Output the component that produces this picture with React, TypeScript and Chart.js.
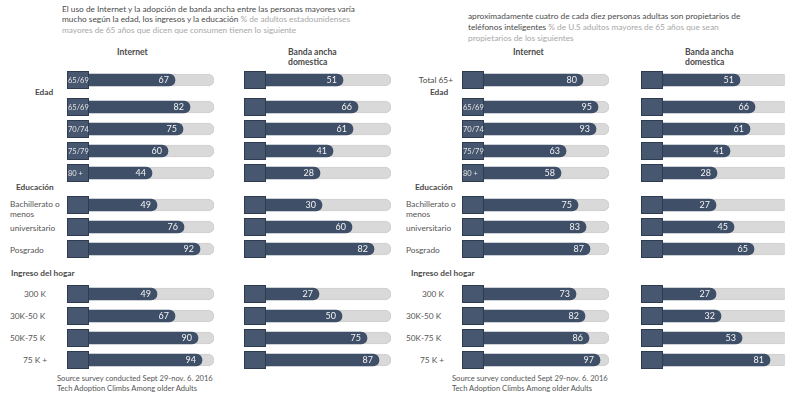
import React, { useEffect, useRef } from "react";
import { Chart, registerables } from "chart.js";

Chart.register(...registerables);

// ---------- DATA ----------
const AGE_CATEGORIES = ["65/69", "70/74", "75/79", "80 +"];
const EDU_CATEGORIES = ["Bachillerato o\nmenos", "universitario", "Posgrado"];
const INCOME_CATEGORIES = ["300 K", "30K-50 K", "50K-75 K", "75 K +"];

// Left panel
const LEFT_FIRST_CATEGORY = ["65/69"];
const LEFT_FIRST_INTERNET = [67];
const LEFT_FIRST_BROADBAND = [51];
const LEFT_AGE_INTERNET = [82, 75, 60, 44];
const LEFT_AGE_BROADBAND = [66, 61, 41, 28];
const LEFT_EDU_INTERNET = [49, 76, 92];
const LEFT_EDU_BROADBAND = [30, 60, 82];
const LEFT_INCOME_INTERNET = [49, 67, 90, 94];
const LEFT_INCOME_BROADBAND = [27, 50, 75, 87];

// Right panel
const RIGHT_FIRST_CATEGORY = ["Total 65+"];
const RIGHT_FIRST_INTERNET = [80];
const RIGHT_FIRST_BROADBAND = [51];
const RIGHT_AGE_INTERNET = [95, 93, 63, 58];
const RIGHT_AGE_BROADBAND = [66, 61, 41, 28];
const RIGHT_EDU_INTERNET = [75, 83, 87];
const RIGHT_EDU_BROADBAND = [27, 45, 65];
const RIGHT_INCOME_INTERNET = [73, 82, 86, 97];
const RIGHT_INCOME_BROADBAND = [27, 32, 53, 81];

// Text
const LEFT_TITLE_DARK_1 = "El uso de Internet y la adopción de banda ancha entre las personas mayores varía";
const LEFT_TITLE_DARK_2 = "mucho según la edad, los ingresos y la educación";
const LEFT_TITLE_GRAY_2 = " % de adultos estadounidenses";
const LEFT_TITLE_GRAY_3 = "mayores de 65 años que dicen que consumen tienen lo siguiente";
const RIGHT_TITLE_DARK_1 = "aproximadamente cuatro de cada diez personas adultas son propietarios de";
const RIGHT_TITLE_DARK_2 = "teléfonos inteligentes";
const RIGHT_TITLE_GRAY_2 = " % de U.S adultos mayores de 65 años que sean";
const RIGHT_TITLE_GRAY_3 = "propietarios de los siguientes";
const COLUMN_INTERNET = "Internet";
const COLUMN_BROADBAND = ["Banda ancha", "domestica"];
const GROUP_AGE = "Edad";
const GROUP_EDU = "Educación";
const GROUP_INCOME = "Ingreso del hogar";
const SOURCE_LINES = ["Source survey conducted Sept 29-nov. 6. 2016", "Tech Adoption Climbs Among older Adults"];

// ---------- STYLE ----------
const FONT = "Lato, 'Open Sans', sans-serif";
const BAR_COLOR = "#3e4f67";
const CAP_COLOR = "#46576f";
const CAP_BORDER = "#2e3c50";
const TRACK_COLOR = "#d9d9d9";
const TRACK_BORDER = "#cfcfcf";
const TEXT_DARK = "#4a4a4a";
const TEXT_GRAY = "#a8a8a8";
const LABEL_COLOR = "#555555";

const PITCH = 22;
const TRACK_WIDTH = 147;
const INTERNET_MIN = -41;
const BROADBAND_MIN = -48;
const GROUP_TOPS = [69, 96, 194, 283];

type GroupProps = {
  categories: string[];
  values: number[];
  capLabels: (string | null)[];
  left: number;
  top: number;
  axisMin: number;
};

function BarGroup({ categories, values, capLabels, left, top, axisMin }: GroupProps) {
  const ref = useRef<HTMLCanvasElement | null>(null);
  useEffect(() => {
    if (!ref.current) return;
    const axisMax = axisMin + TRACK_WIDTH;
    const capPlugin = {
      id: "caps",
      afterDatasetsDraw(chart: any) {
        const ctx = chart.ctx;
        const area = chart.chartArea;
        const meta = chart.getDatasetMeta(0);
        ctx.save();
        meta.data.forEach((bar: any, i: number) => {
          const y = bar.y;
          // value label
          ctx.fillStyle = "#f4f4f4";
          ctx.font = `9px ${FONT}`;
          ctx.textAlign = "right";
          ctx.textBaseline = "middle";
          ctx.fillText(String(values[i]), bar.x - 6, y + 0.5);
          // cap
          ctx.fillStyle = CAP_COLOR;
          ctx.fillRect(area.left, y - 9, 22, 18);
          ctx.strokeStyle = CAP_BORDER;
          ctx.lineWidth = 1;
          ctx.strokeRect(area.left + 0.5, y - 8.5, 21, 17);
          const cl = capLabels[i];
          if (cl) {
            ctx.fillStyle = "#e4e4e4";
            ctx.font = `7.5px ${FONT}`;
            ctx.textAlign = "left";
            ctx.fillText(cl, area.left + 1, y + 0.5);
          }
        });
        ctx.restore();
      },
    };
    const chart = new Chart(ref.current, {
      type: "bar",
      data: {
        labels: categories,
        datasets: [
          {
            label: "valor",
            data: values,
            backgroundColor: BAR_COLOR,
            barThickness: 12,
            borderRadius: 6,
            borderSkipped: "start",
            base: axisMin,
            grouped: false,
            order: 1,
          } as any,
          {
            label: "pista",
            data: categories.map(() => axisMax),
            backgroundColor: TRACK_COLOR,
            borderColor: TRACK_BORDER,
            borderWidth: 1,
            barThickness: 12,
            borderRadius: 6,
            borderSkipped: "start",
            base: axisMin,
            grouped: false,
            order: 2,
          } as any,
        ],
      },
      options: {
        indexAxis: "y",
        responsive: false,
        maintainAspectRatio: false,
        animation: false,
        layout: { padding: 0 },
        plugins: { legend: { display: false }, tooltip: { enabled: false }, title: { display: false } },
        scales: {
          x: { display: false, min: axisMin, max: axisMax },
          y: { display: false },
        },
      },
      plugins: [capPlugin],
    });
    return () => chart.destroy();
  }, []);
  return (
    <canvas
      ref={ref}
      width={TRACK_WIDTH}
      height={categories.length * PITCH}
      style={{ position: "absolute", left, top, display: "block" }}
    />
  );
}

function Txt({ x, y, children, size = 8.3, bold = false, color = LABEL_COLOR, align = "left" }: any) {
  const lh = 10.5;
  const style: any = {
    position: "absolute",
    top: y - lh / 2,
    fontSize: size,
    lineHeight: `${lh}px`,
    fontWeight: bold ? 700 : 400,
    color,
    whiteSpace: "nowrap",
  };
  if (align === "right") style.right = 785 - x;
  else style.left = x;
  return <div style={style}>{children}</div>;
}

function Panel({ offsetX, right, first, age, edu, income, firstCap, title, firstLabel }: any) {
  const colInternet = offsetX + 67;
  const colBroad = offsetX + (right ? 246 : 244);
  const rowCenter = (g: number, i: number) => GROUP_TOPS[g] + (i + 0.5) * PITCH;
  const groups = [
    { cats: first.cats, internet: first.internet, broad: first.broad, caps: [firstCap] },
    { cats: AGE_CATEGORIES, internet: age.internet, broad: age.broad, caps: AGE_CATEGORIES },
    { cats: EDU_CATEGORIES, internet: edu.internet, broad: edu.broad, caps: EDU_CATEGORIES.map(() => null) },
    { cats: INCOME_CATEGORIES, internet: income.internet, broad: income.broad, caps: INCOME_CATEGORIES.map(() => null) },
  ];
  const eduX = right ? [11, 11, 11] : [10, 10, 10];
  const incomeX = right ? [27, 11, 11, 25] : [24, 10, 10, 23];
  return (
    <>
      {title}
      <Txt x={offsetX + (right ? 118 : 117)} y={52} bold size={8.6} color={TEXT_DARK}>{COLUMN_INTERNET}</Txt>
      <Txt x={offsetX + (right ? 290 : 288)} y={52} bold size={8.6} color={TEXT_DARK}>{COLUMN_BROADBAND[0]}</Txt>
      <Txt x={offsetX + (right ? 290 : 288)} y={62.5} bold size={8.6} color={TEXT_DARK}>{COLUMN_BROADBAND[1]}</Txt>
      {firstLabel}
      <Txt x={offsetX + 35} y={92} bold size={8.3} color={TEXT_DARK}>{GROUP_AGE}</Txt>
      <Txt x={offsetX + (right ? 20 : 16)} y={187} bold size={8.3} color={TEXT_DARK}>{GROUP_EDU}</Txt>
      <Txt x={offsetX + (right ? 16 : 11)} y={273} bold size={8.3} color={TEXT_DARK}>{GROUP_INCOME}</Txt>
      {EDU_CATEGORIES.map((c, i) => {
        const lines = c.split("\n");
        return lines.map((ln, j) => (
          <Txt key={c + j} x={offsetX + eduX[i]} y={rowCenter(2, i) - (lines.length > 1 ? 1 : -1) + j * 10.5}>{ln}</Txt>
        ));
      })}
      {INCOME_CATEGORIES.map((c, i) => (
        <Txt key={c} x={offsetX + incomeX[i]} y={rowCenter(3, i)}>{c}</Txt>
      ))}
      {groups.map((g, gi) => (
        <React.Fragment key={gi}>
          <BarGroup categories={g.cats} values={g.internet} capLabels={g.caps} left={colInternet} top={GROUP_TOPS[gi]} axisMin={INTERNET_MIN} />
          <BarGroup categories={g.cats} values={g.broad} capLabels={g.cats.map(() => null)} left={colBroad} top={GROUP_TOPS[gi]} axisMin={BROADBAND_MIN} />
        </React.Fragment>
      ))}
      <Txt x={offsetX + 57} y={378} size={7.6}>{SOURCE_LINES[0]}</Txt>
      <Txt x={offsetX + 57} y={388} size={7.6}>{SOURCE_LINES[1]}</Txt>
    </>
  );
}

export default function App() {
  const leftTitle = (
    <>
      <Txt x={62} y={9} color={TEXT_DARK}>{LEFT_TITLE_DARK_1}</Txt>
      <Txt x={62} y={19.5} color={TEXT_DARK}>
        {LEFT_TITLE_DARK_2}
        <span style={{ color: TEXT_GRAY }}>{LEFT_TITLE_GRAY_2}</span>
      </Txt>
      <Txt x={62} y={30} color={TEXT_GRAY}>{LEFT_TITLE_GRAY_3}</Txt>
    </>
  );
  const rightTitle = (
    <>
      <Txt x={468} y={16} color={TEXT_DARK}>{RIGHT_TITLE_DARK_1}</Txt>
      <Txt x={468} y={27} color={TEXT_DARK}>
        {RIGHT_TITLE_DARK_2}
        <span style={{ color: TEXT_GRAY }}>{RIGHT_TITLE_GRAY_2}</span>
      </Txt>
      <Txt x={468} y={38} color={TEXT_GRAY}>{RIGHT_TITLE_GRAY_3}</Txt>
    </>
  );
  return (
    <div
      style={{
        position: "absolute",
        left: 0,
        top: 0,
        width: 785,
        height: 395,
        overflow: "hidden",
        background: "#ffffff",
        fontFamily: FONT,
      }}
    >
      <Panel
        offsetX={0}
        right={false}
        title={leftTitle}
        firstCap={LEFT_FIRST_CATEGORY[0]}
        firstLabel={null}
        first={{ cats: LEFT_FIRST_CATEGORY, internet: LEFT_FIRST_INTERNET, broad: LEFT_FIRST_BROADBAND }}
        age={{ internet: LEFT_AGE_INTERNET, broad: LEFT_AGE_BROADBAND }}
        edu={{ internet: LEFT_EDU_INTERNET, broad: LEFT_EDU_BROADBAND }}
        income={{ internet: LEFT_INCOME_INTERNET, broad: LEFT_INCOME_BROADBAND }}
      />
      <Panel
        offsetX={395}
        right={true}
        title={rightTitle}
        firstCap={null}
        firstLabel={<Txt x={453} y={80} align="right" color={TEXT_DARK}>{RIGHT_FIRST_CATEGORY[0]}</Txt>}
        first={{ cats: RIGHT_FIRST_CATEGORY, internet: RIGHT_FIRST_INTERNET, broad: RIGHT_FIRST_BROADBAND }}
        age={{ internet: RIGHT_AGE_INTERNET, broad: RIGHT_AGE_BROADBAND }}
        edu={{ internet: RIGHT_EDU_INTERNET, broad: RIGHT_EDU_BROADBAND }}
        income={{ internet: RIGHT_INCOME_INTERNET, broad: RIGHT_INCOME_BROADBAND }}
      />
    </div>
  );
}
